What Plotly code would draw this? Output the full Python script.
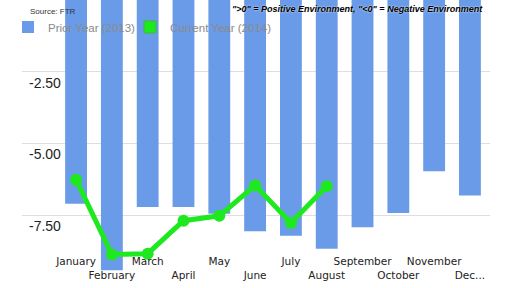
import plotly.graph_objects as go

months = ["January", "February", "March", "April", "May", "June", "July",
          "August", "September", "October", "November", "December"]
month_labels = ["January", "February", "March", "April", "May", "June", "July",
                "August", "September", "October", "November", "Dec..."]
prior_2013 = [-7.10, -9.42, -7.21, -7.21, -7.45, -8.06, -8.21, -8.67, -7.92, -7.42, -5.97, -6.81]
current_2014 = [-6.26, -8.87, -8.84, -7.69, -7.52, -6.46, -7.77, -6.49, None, None, None, None]
y_ticks = [-2.5, -5.0, -7.5, -10.0]
y_tick_labels = ["-2.50", "-5.00", "-7.50", ""]

BLUE = "#6a9be8"
GREEN = "#1ee81e"

# staggered labels: odd on first line, even on second line
tick_text = [(lab + "<br>\u00a0") if i % 2 == 0 else ("\u00a0<br>" + lab)
             for i, lab in enumerate(month_labels)]

pw = 512 - 22 - 22
ph = 288 - 0 - 1

fig = go.Figure()
fig.add_trace(go.Bar(x=months, y=prior_2013, name="Prior Year (2013)",
                     marker=dict(color=BLUE, line=dict(width=0)), width=0.61,
                     legend="legend"))
fig.add_trace(go.Bar(x=months, y=[None] * 12, name="Current Year (2014)",
                     marker=dict(color=GREEN, line=dict(color="#3cb83c", width=1)),
                     showlegend=True, hoverinfo="skip", legend="legend2"))
fig.add_trace(go.Scatter(x=months, y=current_2014, mode="lines+markers",
                         name="Current Year (2014)", showlegend=False,
                         line=dict(color=GREEN, width=5),
                         marker=dict(color=GREEN, size=12)))

leg_common = dict(orientation="h", xanchor="left", yanchor="middle",
                  bgcolor="rgba(0,0,0,0)", font=dict(size=11.5, color="#8a8a8a"))

fig.update_layout(
    width=512, height=288,
    margin=dict(l=22, r=22, t=0, b=1, autoexpand=False),
    paper_bgcolor="white", plot_bgcolor="white",
    barmode="overlay",
    font=dict(family="Liberation Sans, Arial, sans-serif"),
    legend=dict(x=(8 - 22) / pw, y=1 - 27 / ph, **leg_common),
    legend2=dict(x=(130 - 22) / pw, y=1 - 27 / ph, **leg_common),
    xaxis=dict(range=[-1.51, 11.56], tickmode="array", tickvals=months, ticktext=tick_text,
               ticklabelposition="inside", ticks="", showgrid=False, zeroline=False,
               showline=False, tickangle=0,
               tickfont=dict(family="DejaVu Sans", size=10.5, color="#222"),
               ticklabelstandoff=3),
    yaxis=dict(range=[-10, 0], tickmode="array", tickvals=y_ticks, ticktext=y_tick_labels,
               ticklabelposition="inside", ticks="", showgrid=True, gridcolor="#dedede",
               gridwidth=1, zeroline=False, showline=False,
               tickfont=dict(family="Liberation Sans, Arial", size=14, color="#222"),
               ticklabelshift=11, ticklabelstandoff=4),
    annotations=[
        dict(text="Source: FTR", x=(28 - 22) / pw, y=1 - 11 / ph, xref="paper", yref="paper",
             showarrow=False, xanchor="left", yanchor="middle",
             font=dict(size=8, color="#333")),
        dict(text="<b><i>\">0\" = Positive Environment, \"<0\" = Negative Environment</i></b>",
             x=(485 - 22) / pw, y=1 - 2 / ph, xref="paper", yref="paper", showarrow=False,
             xanchor="right", yanchor="top",
             font=dict(size=9, color="#000", shadow="0 0 2px white")),
    ],
)

fig.write_html("out.html")
